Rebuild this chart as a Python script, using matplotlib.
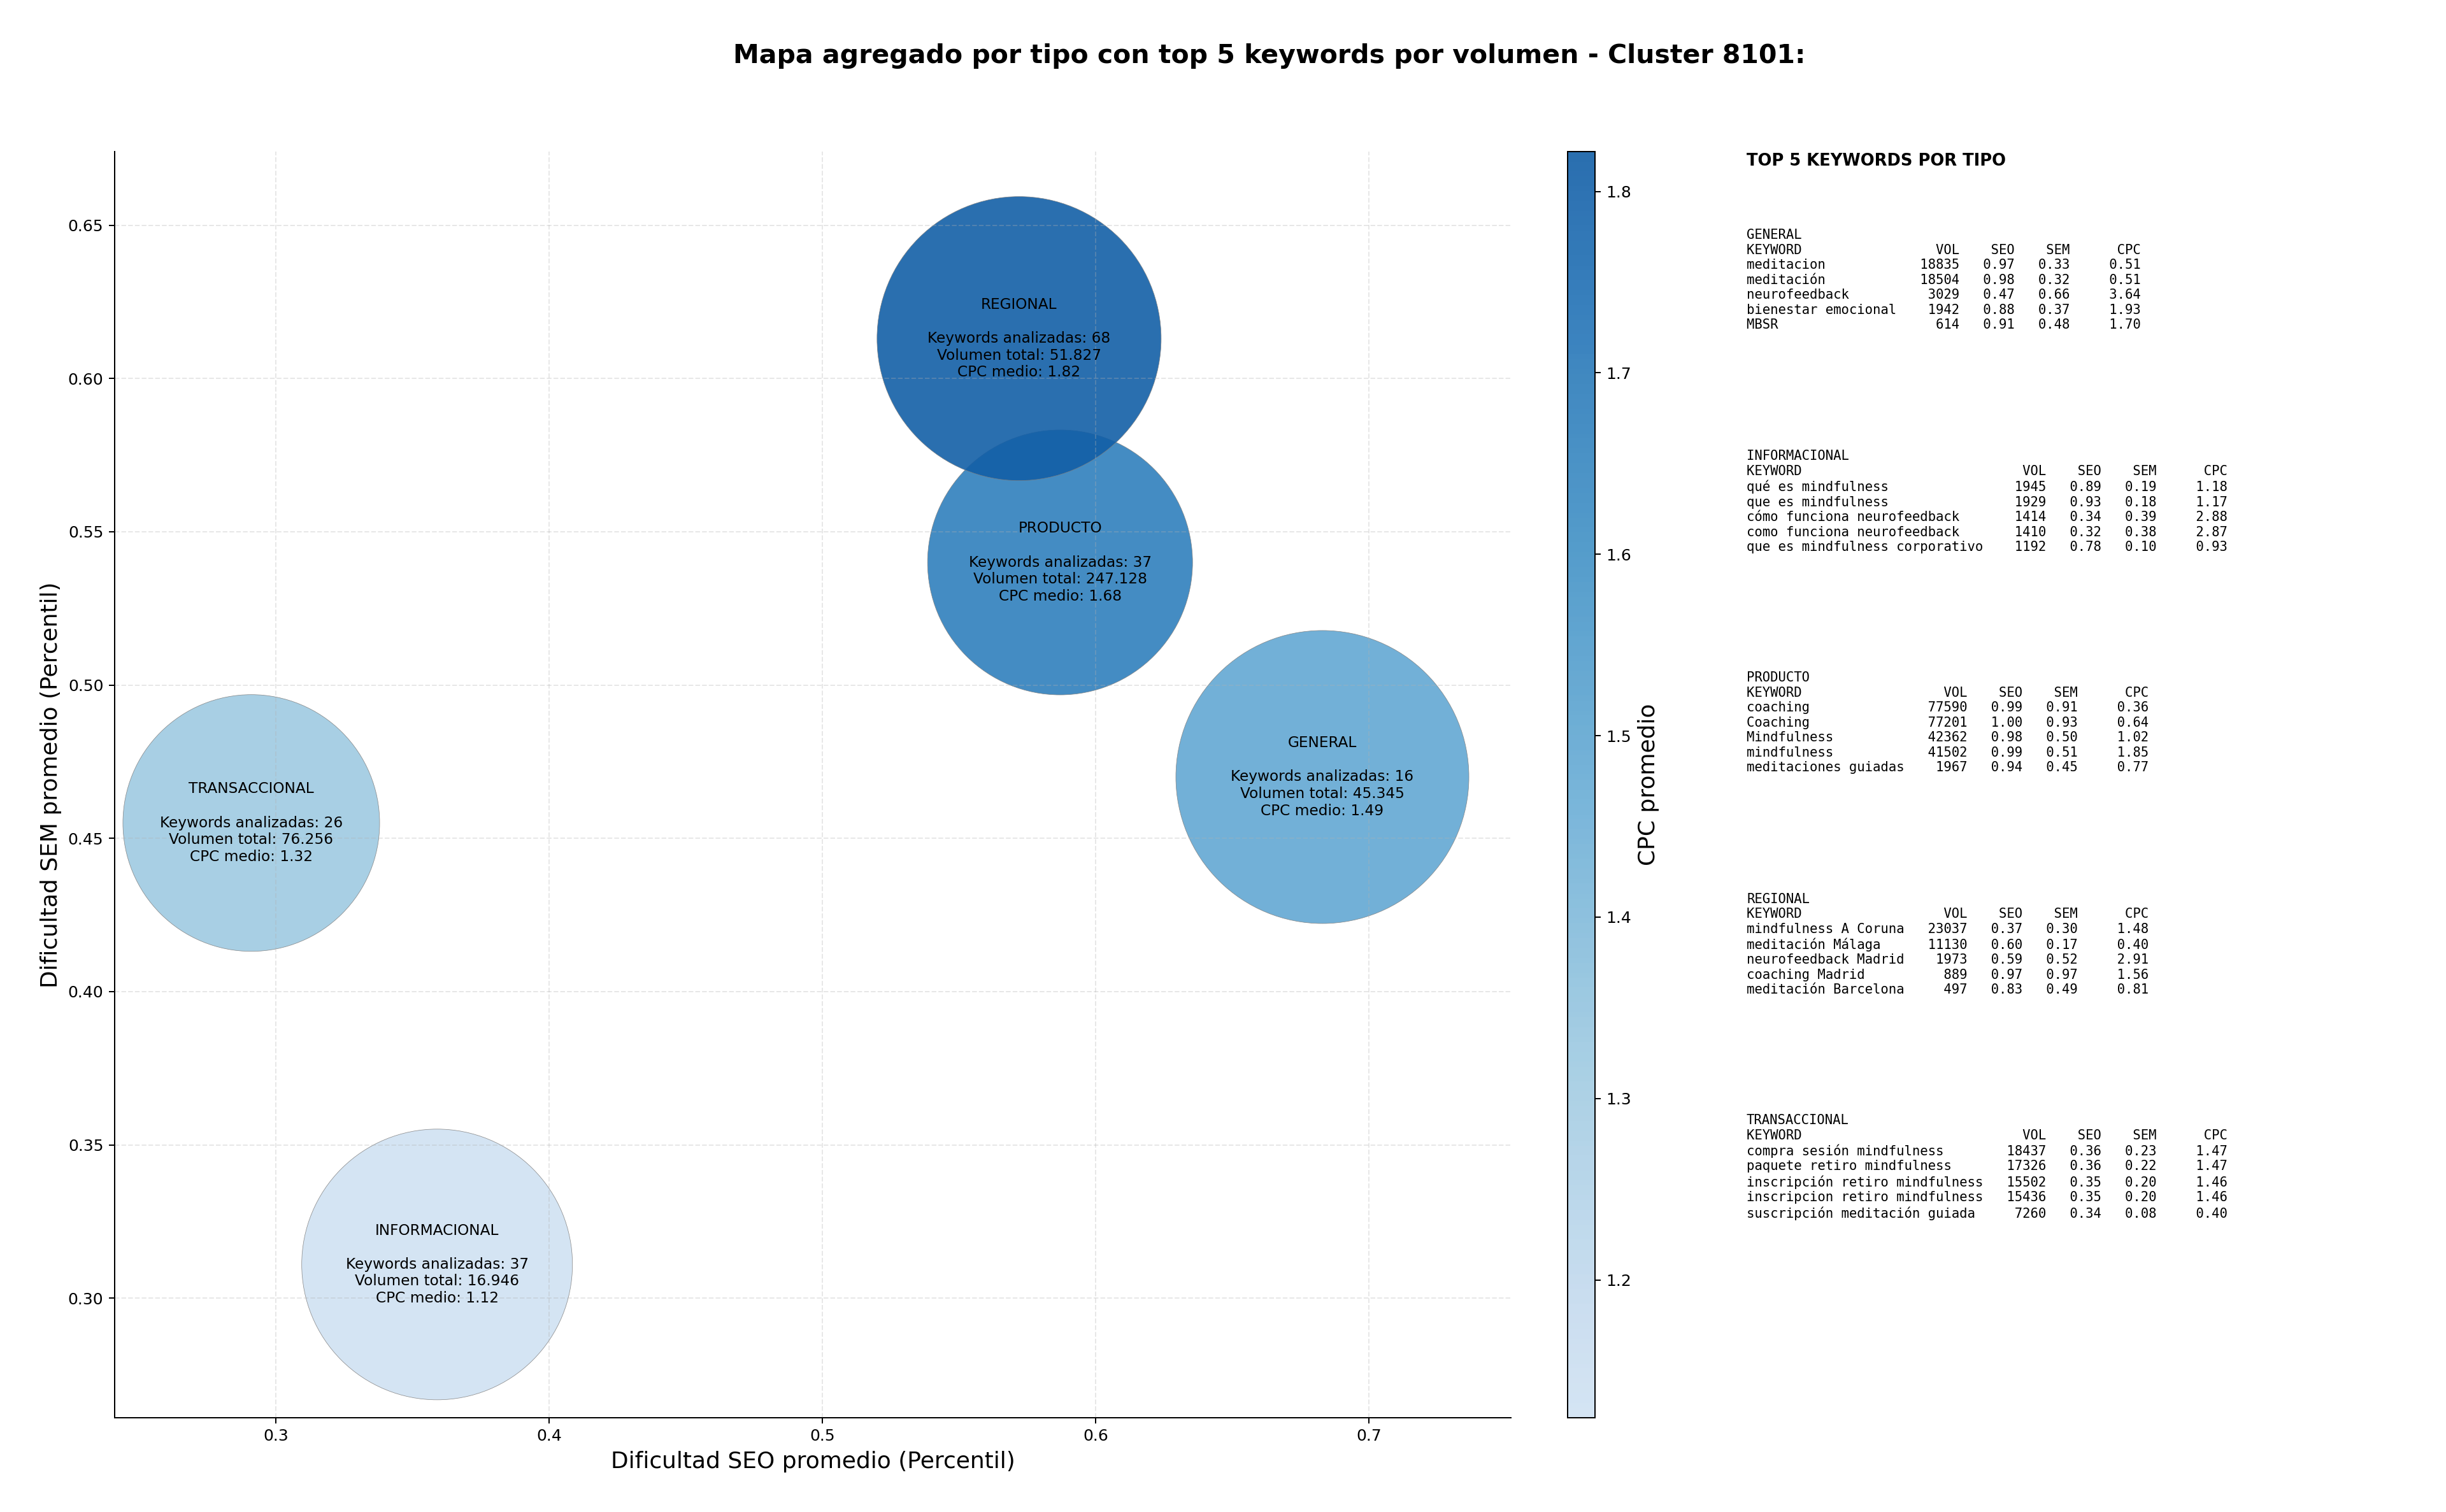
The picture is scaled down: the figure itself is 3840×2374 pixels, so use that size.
import matplotlib
matplotlib.use("Agg")
import matplotlib.pyplot as plt
import numpy as np
from matplotlib.colors import LinearSegmentedColormap, Normalize

# Datos agregados por tipo
tipos = ['GENERAL', 'INFORMACIONAL', 'PRODUCTO', 'REGIONAL', 'TRANSACCIONAL']
seo_medio = [0.683, 0.359, 0.587, 0.572, 0.291]
sem_medio = [0.470, 0.311, 0.540, 0.613, 0.455]
cpc_medio = [1.49, 1.124, 1.68, 1.822, 1.32]
n_keywords = [16, 37, 37, 68, 26]
vol_total = [45345, 16946, 247128, 51827, 76256]
tam_burbuja = [33860, 28900, 27690, 31830, 25990]

# Top 5 keywords por tipo: (keyword, vol, seo, sem, cpc)
top_general = [
    ('meditacion', 18835, 0.97, 0.33, 0.51),
    ('meditación', 18504, 0.98, 0.32, 0.51),
    ('neurofeedback', 3029, 0.47, 0.66, 3.64),
    ('bienestar emocional', 1942, 0.88, 0.37, 1.93),
    ('MBSR', 614, 0.91, 0.48, 1.70),
]
top_informacional = [
    ('qué es mindfulness', 1945, 0.89, 0.19, 1.18),
    ('que es mindfulness', 1929, 0.93, 0.18, 1.17),
    ('cómo funciona neurofeedback', 1414, 0.34, 0.39, 2.88),
    ('como funciona neurofeedback', 1410, 0.32, 0.38, 2.87),
    ('que es mindfulness corporativo', 1192, 0.78, 0.10, 0.93),
]
top_producto = [
    ('coaching', 77590, 0.99, 0.91, 0.36),
    ('Coaching', 77201, 1.00, 0.93, 0.64),
    ('Mindfulness', 42362, 0.98, 0.50, 1.02),
    ('mindfulness', 41502, 0.99, 0.51, 1.85),
    ('meditaciones guiadas', 1967, 0.94, 0.45, 0.77),
]
top_regional = [
    ('mindfulness A Coruna', 23037, 0.37, 0.30, 1.48),
    ('meditación Málaga', 11130, 0.60, 0.17, 0.40),
    ('neurofeedback Madrid', 1973, 0.59, 0.52, 2.91),
    ('coaching Madrid', 889, 0.97, 0.97, 1.56),
    ('meditación Barcelona', 497, 0.83, 0.49, 0.81),
]
top_transaccional = [
    ('compra sesión mindfulness', 18437, 0.36, 0.23, 1.47),
    ('paquete retiro mindfulness', 17326, 0.36, 0.22, 1.47),
    ('inscripción retiro mindfulness', 15502, 0.35, 0.20, 1.46),
    ('inscripcion retiro mindfulness', 15436, 0.35, 0.20, 1.46),
    ('suscripción meditación guiada', 7260, 0.34, 0.08, 0.40),
]
tops = [top_general, top_informacional, top_producto, top_regional, top_transaccional]

W, H, DPI = 3840, 2374, 180
fig = plt.figure(figsize=(W / DPI, H / DPI), dpi=DPI)

ax = fig.add_axes([180 / W, 1 - 2226 / H, 2192 / W, 1988 / H])
cax = fig.add_axes([2461 / W, 1 - 2226 / H, 43 / W, 1988 / H])

blues = plt.cm.Blues(np.linspace(0.2, 0.82, 256))
cmap = LinearSegmentedColormap.from_list('blues_trunc', blues)
norm = Normalize(vmin=min(cpc_medio), vmax=max(cpc_medio))

sc = ax.scatter(seo_medio, sem_medio, s=tam_burbuja, c=cpc_medio, cmap=cmap, norm=norm,
                alpha=0.9, edgecolors='grey', linewidths=0.3)

for t, x, y, n, v, c in zip(tipos, seo_medio, sem_medio, n_keywords, vol_total, cpc_medio):
    vol_txt = f"{v:,}".replace(",", ".")
    label = f"{t}\n\nKeywords analizadas: {n}\nVolumen total: {vol_txt}\nCPC medio: {c:.2f}"
    ax.text(x, y, label, ha='center', va='center', fontsize=9.3, multialignment='center')

ax.set_xlim(0.241, 0.752)
ax.set_ylim(0.261, 0.674)
ax.set_xticks([0.3, 0.4, 0.5, 0.6, 0.7])
ax.set_yticks([0.30, 0.35, 0.40, 0.45, 0.50, 0.55, 0.60, 0.65])
ax.grid(True, linestyle='--', alpha=0.3)
ax.spines['top'].set_visible(False)
ax.spines['right'].set_visible(False)
ax.set_xlabel('Dificultad SEO promedio (Percentil)', fontsize=14.4)
ax.set_ylabel('Dificultad SEM promedio (Percentil)', fontsize=14.4)

cbar = fig.colorbar(sc, cax=cax)
cbar.set_label('CPC promedio', fontsize=14.4)

fig.text(0.519, 1 - 88 / H, 'Mapa agregado por tipo con top 5 keywords por volumen - Cluster 8101:',
         ha='center', va='center', fontsize=16.4, fontweight='bold')

# Panel de texto con las tablas
x_txt = 2742 / W
fig.text(x_txt, 1 - 240 / H, 'TOP 5 KEYWORDS POR TIPO', fontsize=10.3, fontweight='bold', va='top')
for i, (t, rows) in enumerate(zip(tipos, tops)):
    w = max(len(r[0]) for r in rows)
    lines = [t, f"{'KEYWORD':<{w}}{'VOL':>8}{'SEO':>7}{'SEM':>7}{'CPC':>9}"]
    for kw, v, s1, s2, c in rows:
        lines.append(f"{kw:<{w}}{v:>8}{s1:>7.2f}{s2:>7.2f}{c:>9.2f}")
    fig.text(x_txt, 1 - (359 + i * 347.5) / H, "\n".join(lines),
             family='monospace', fontsize=8.25, linespacing=1.22, va='top')

fig.savefig('out.png', dpi=DPI)
